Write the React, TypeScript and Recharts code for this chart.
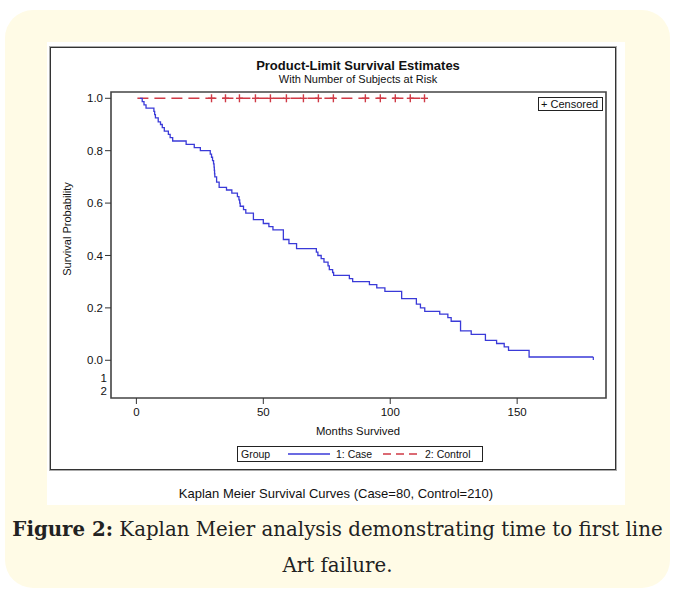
import React from 'react'
import { ComposedChart, Line, Scatter, XAxis, YAxis, ReferenceArea, ReferenceLine } from 'recharts'

// Kaplan-Meier step curve for the case group (months, survival probability)
const caseMonths = [
  1.4, 2.3, 3.0, 3.8, 6.9, 7.2, 7.5, 8.6, 9.5, 10.2, 11.0, 12.6, 13.3, 14.3, 19.6, 22.8, 25.2,
  29.1, 29.6, 30.0, 30.4, 30.6, 30.7, 30.8, 30.9, 31.6, 32.6, 35.5, 37.6, 39.8, 40.4, 40.7, 40.9,
  42.2, 43.1, 46.1, 50.0, 52.2, 53.8, 57.9, 60.1, 63.1, 70.9, 71.5, 72.8, 73.9, 75.5, 76.0, 77.3,
  77.7, 83.9, 85.2, 91.8, 94.7, 97.9, 104.5, 110.3, 111.9, 113.6, 119.5, 122.7, 124.0, 127.7,
  131.9, 137.5, 141.9, 144.9, 146.6, 154.7, 180.0,
]
const caseSurvival = [
  1.0, 0.9875, 0.975, 0.9625, 0.95, 0.9375, 0.925, 0.91, 0.9, 0.888, 0.875, 0.862, 0.85, 0.837,
  0.824, 0.812, 0.8, 0.787, 0.775, 0.762, 0.75, 0.737, 0.725, 0.712, 0.7, 0.68, 0.66, 0.65, 0.638,
  0.625, 0.612, 0.6, 0.588, 0.575, 0.562, 0.537, 0.522, 0.51, 0.498, 0.461, 0.445, 0.426, 0.413,
  0.4, 0.388, 0.375, 0.36, 0.346, 0.335, 0.324, 0.312, 0.3, 0.289, 0.276, 0.263, 0.235, 0.214, 0.2,
  0.187, 0.176, 0.163, 0.149, 0.112, 0.099, 0.076, 0.064, 0.051, 0.038, 0.0125, 0.0125,
]
const caseCensoredMonths = [180.0]

// control group never fails: flat at 1.0, with censored marks
const controlMonths = [0.4, 113.5]
const controlSurvival = [1.0, 1.0]
const controlCensoredMonths = [29.6, 35.1, 40.6, 46.9, 52.8, 59.1, 65.8, 71.7, 77.6, 90.2, 96.1, 102.0, 107.9, 113.5]

const xTicks = [0, 50, 100, 150]
const yTicks = [0, 0.2, 0.4, 0.6, 0.8, 1.0]
const atRiskRows = ['1', '2']

const X_DOMAIN: [number, number] = [-10, 185]
const Y_DOMAIN: [number, number] = [-0.144, 1.024]
const AT_RISK_Y = [-0.069, -0.117]

const BLUE = '#3a3ad8'
const RED = '#d03a46'
const FONT = '"Liberation Sans", Arial, sans-serif'

const caseData = caseMonths.map((t, i) => ({ t, s: caseSurvival[i] }))
const controlData = controlMonths.map((t, i) => ({ t, s: controlSurvival[i] }))
const controlCensored = controlCensoredMonths.map((t) => ({ t, s: 1.0 }))
const caseCensored = caseCensoredMonths.map((t) => ({ t, s: caseSurvival[caseSurvival.length - 1] }))

const Plus = ({ cx, cy, color, size }: { cx?: number; cy?: number; color: string; size: number }) => {
  if (cx == null || cy == null) return null
  return (
    <g stroke={color} strokeWidth={1.4}>
      <line x1={cx - size} x2={cx + size} y1={cy} y2={cy} />
      <line x1={cx} x2={cx} y1={cy - size - 0.5} y2={cy + size + 0.5} />
    </g>
  )
}

const CaseTick = ({ cx, cy }: { cx?: number; cy?: number }) => {
  if (cx == null || cy == null) return null
  return <line x1={cx} x2={cx} y1={cy} y2={cy + 3} stroke={BLUE} strokeWidth={1.2} />
}

const txt: React.CSSProperties = { position: 'absolute', fontFamily: FONT, color: '#111', whiteSpace: 'nowrap' }

export default function App() {
  return (
    <div style={{ position: 'relative', width: 675, height: 590, background: '#fff', overflow: 'hidden' }}>
      <style>{'body{margin:0}'}</style>
      {/* cream panel */}
      <div style={{ position: 'absolute', left: 5, top: 10, width: 665, height: 578, background: '#fffbe6', borderRadius: 28 }} />
      {/* white figure area */}
      <div style={{ position: 'absolute', left: 47, top: 42, width: 578, height: 463, background: '#fff' }} />
      {/* outer frame */}
      <div style={{ position: 'absolute', left: 50, top: 47, width: 564, height: 421, border: '1px solid #333', boxShadow: '0 0 0 1px #aaa' }} />

      <div style={{ position: 'absolute', left: 50, top: 47 }}>
        <ComposedChart width={566} height={423} margin={{ top: 45, right: 10, bottom: 42, left: 0 }}>
          <XAxis
            dataKey="t"
            type="number"
            domain={X_DOMAIN}
            ticks={xTicks}
            allowDataOverflow
            axisLine={false}
            tickSize={6}
            tickMargin={4}
            tickLine={{ stroke: '#333' }}
            height={30}
            tick={{ fontSize: 11.5, fill: '#111', fontFamily: FONT }}
          />
          <YAxis
            dataKey="s"
            type="number"
            domain={Y_DOMAIN}
            ticks={yTicks}
            allowDataOverflow
            axisLine={false}
            width={61}
            tickSize={6}
            tickLine={{ stroke: '#333' }}
            tickFormatter={(v: number) => v.toFixed(1)}
            tick={{ fontSize: 11.5, fill: '#111', fontFamily: FONT }}
          />
          <ReferenceArea
            x1={X_DOMAIN[0]}
            x2={X_DOMAIN[1]}
            y1={Y_DOMAIN[0]}
            y2={Y_DOMAIN[1]}
            fill="none"
            stroke="#444"
            strokeWidth={1.6}
          />
          {atRiskRows.map((r, i) => (
            <ReferenceLine
              key={r}
              y={AT_RISK_Y[i]}
              stroke="none"
              label={{ value: r, position: 'left', offset: 4, fontSize: 11.5, fill: '#111', fontFamily: FONT }}
            />
          ))}
          <Line
            data={controlData}
            dataKey="s"
            type="linear"
            stroke={RED}
            strokeWidth={1.5}
            strokeDasharray="11 6"
            dot={false}
            isAnimationActive={false}
          />
          <Scatter
            data={controlCensored}
            dataKey="s"
            shape={(p: any) => <Plus cx={p.cx} cy={p.cy} color={RED} size={3.5} />}
            isAnimationActive={false}
          />
          <Line
            data={caseData}
            dataKey="s"
            type="stepAfter"
            stroke={BLUE}
            strokeWidth={1.3}
            dot={false}
            isAnimationActive={false}
          />
          <Scatter
            data={caseCensored}
            dataKey="s"
            shape={(p: any) => <CaseTick cx={p.cx} cy={p.cy} />}
            isAnimationActive={false}
          />
        </ComposedChart>
      </div>

      {/* titles */}
      <div style={{ ...txt, left: 158, width: 400, top: 58, textAlign: 'center', fontSize: 13, fontWeight: 'bold' }}>
        Product-Limit Survival Estimates
      </div>
      <div style={{ ...txt, left: 158, width: 400, top: 73, textAlign: 'center', fontSize: 11 }}>
        With Number of Subjects at Risk
      </div>

      {/* censored legend */}
      <div
        style={{
          ...txt,
          left: 538,
          top: 97,
          width: 61,
          height: 12,
          border: '1px solid #222',
          fontSize: 11,
          lineHeight: '12px',
          paddingLeft: 2,
          boxSizing: 'content-box',
        }}
      >
        + Censored
      </div>

      {/* y axis title */}
      <div
        style={{
          ...txt,
          left: 67,
          top: 229,
          fontSize: 11,
          transform: 'translate(-50%, -50%) rotate(-90deg)',
        }}
      >
        Survival Probability
      </div>

      {/* x axis title */}
      <div style={{ ...txt, left: 158, width: 400, top: 425, textAlign: 'center', fontSize: 11.3 }}>Months Survived</div>

      {/* group legend */}
      <div
        style={{
          ...txt,
          left: 237,
          top: 446,
          width: 244,
          height: 14,
          border: '1px solid #222',
          fontSize: 10.5,
          lineHeight: '14px',
        }}
      >
        <span style={{ position: 'absolute', left: 3 }}>Group</span>
        <svg style={{ position: 'absolute', left: 50, top: 0 }} width={130} height={14}>
          <line x1={0} x2={42} y1={7} y2={7} stroke={BLUE} strokeWidth={1.5} />
          <line x1={95} x2={131} y1={7} y2={7} stroke={RED} strokeWidth={1.5} strokeDasharray="8 5" />
        </svg>
        <span style={{ position: 'absolute', left: 98 }}>1: Case</span>
        <span style={{ position: 'absolute', left: 187 }}>2: Control</span>
      </div>

      {/* figure caption inside image */}
      <div style={{ ...txt, left: 47, width: 578, top: 486, textAlign: 'center', fontSize: 13 }}>
        Kaplan Meier Survival Curves (Case=80, Control=210)
      </div>

      {/* article caption */}
      <div
        style={{
          position: 'absolute',
          left: 5,
          width: 665,
          top: 511,
          textAlign: 'center',
          fontFamily: '"DejaVu Serif", serif',
          fontSize: 19.8,
          lineHeight: '36px',
          color: '#222',
        }}
      >
        <b>Figure 2:</b> Kaplan Meier analysis demonstrating time to first line
        <br />
        Art failure.
      </div>
    </div>
  )
}
